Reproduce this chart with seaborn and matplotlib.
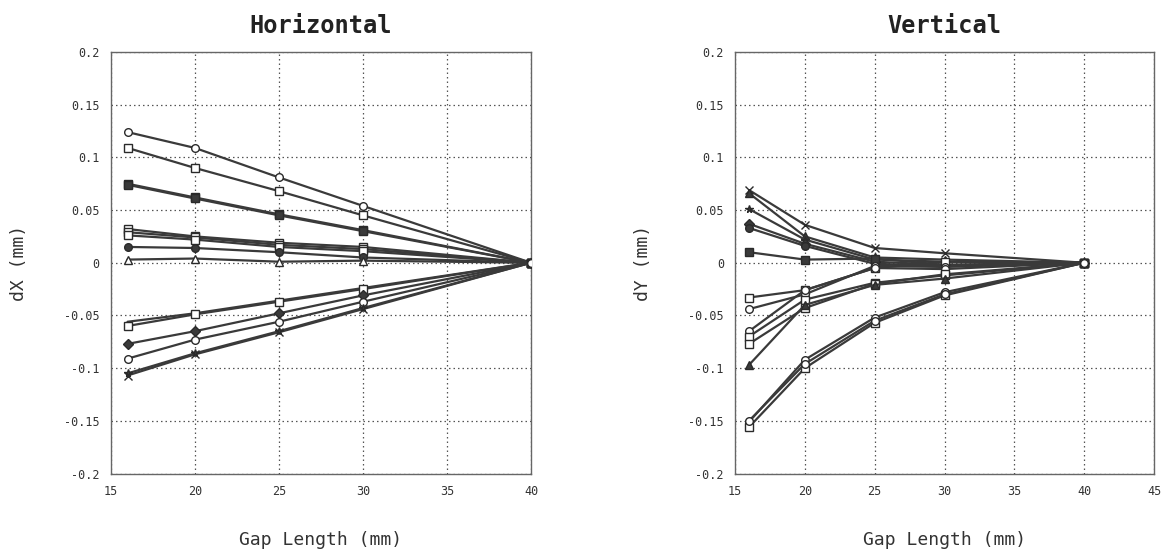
import matplotlib
matplotlib.use("Agg")
import matplotlib.pyplot as plt
import seaborn as sns
import pandas as pd
import numpy as np

gap = [16, 20, 25, 30, 40]

# Horizontal (dX, mm)
h_names = ["H1", "H2", "H3", "H4", "H5", "H6", "H7", "H8", "H9",
           "H10", "H11", "H12", "H13", "H14", "H15"]
h_values = [
    [0.124, 0.109, 0.081, 0.054, 0.0],
    [0.109, 0.090, 0.068, 0.045, 0.0],
    [0.075, 0.062, 0.046, 0.031, 0.0],
    [0.074, 0.061, 0.045, 0.030, 0.0],
    [0.032, 0.025, 0.019, 0.015, 0.0],
    [0.029, 0.024, 0.017, 0.013, 0.0],
    [0.026, 0.022, 0.015, 0.011, 0.0],
    [0.015, 0.014, 0.010, 0.005, 0.0],
    [0.003, 0.004, 0.001, 0.002, 0.0],
    [-0.056, -0.048, -0.036, -0.024, 0.0],
    [-0.060, -0.049, -0.037, -0.025, 0.0],
    [-0.077, -0.065, -0.048, -0.031, 0.0],
    [-0.091, -0.073, -0.056, -0.037, 0.0],
    [-0.107, -0.087, -0.066, -0.044, 0.0],
    [-0.105, -0.086, -0.065, -0.043, 0.0],
]
h_markers = ["o", "s", "s", "s", "s", "s", "s", "o", "^",
             "", "s", "D", "o", "x", "*"]
h_filled = [False, False, True, True, False, False, False, True, False,
            True, False, True, False, True, True]

# Vertical (dY, mm)
v_names = ["V1", "V2", "V3", "V4", "V5", "V6", "V7", "V8", "V9",
           "V10", "V11", "V12", "V13", "V14", "V15"]
v_values = [
    [0.069, 0.036, 0.014, 0.009, 0.0],
    [0.066, 0.025, 0.005, 0.003, 0.0],
    [0.051, 0.022, 0.003, 0.001, 0.0],
    [0.037, 0.018, 0.001, -0.002, 0.0],
    [0.033, 0.016, -0.001, -0.003, 0.0],
    [0.010, 0.003, 0.004, -0.002, 0.0],
    [-0.033, -0.026, -0.005, 0.001, 0.0],
    [-0.044, -0.030, -0.003, -0.004, 0.0],
    [-0.065, -0.026, -0.005, -0.006, 0.0],
    [-0.070, -0.035, -0.019, -0.012, 0.0],
    [-0.077, -0.043, -0.020, -0.011, 0.0],
    [-0.097, -0.040, -0.021, -0.015, 0.0],
    [-0.151, -0.092, -0.052, -0.028, 0.0],
    [-0.156, -0.100, -0.057, -0.031, 0.0],
    [-0.150, -0.096, -0.055, -0.030, 0.0],
]
v_markers = ["x", "^", "*", "D", "o", "s", "s", "o", "o",
             "s", "s", "^", "o", "s", "o"]
v_filled = [True, True, True, True, True, True, False, False, False,
            False, False, True, False, False, False]

xticks_h = [15, 20, 25, 30, 35, 40]
xticks_v = [15, 20, 25, 30, 35, 40, 45]
yticks = [-0.2, -0.15, -0.1, -0.05, 0, 0.05, 0.1, 0.15, 0.2]
ytick_labels = ["-0.2", "-0.15", "-0.1", "-0.05", "0", "0.05", "0.1", "0.15", "0.2"]

sns.set_style("white")
plt.rcParams["font.family"] = ["DejaVu Sans Mono", "DejaVu Sans"]

LINE = "#3a3a3a"
GRID = "#555555"

fig = plt.figure(figsize=(11.63, 5.52), dpi=100)
ax1 = fig.add_axes([0.0952, 0.1422, 0.3614, 0.7636])
ax2 = fig.add_axes([0.632, 0.1422, 0.3603, 0.7636])


def draw(ax, names, values, markers, filled, xmax, xticks, title, ylabel):
    rows = []
    for n, vals in zip(names, values):
        for g, v in zip(gap, vals):
            rows.append({"series": n, "gap": g, "val": v})
    df = pd.DataFrame(rows)
    for n, m, f in zip(names, markers, filled):
        sub = df[df["series"] == n]
        sns.lineplot(data=sub, x="gap", y="val", ax=ax, color=LINE, lw=1.6,
                     marker=m if m else None, markersize=5.5,
                     markerfacecolor=(LINE if f else "white"),
                     markeredgecolor="#2a2a2a", markeredgewidth=1.0,
                     estimator=None, sort=False, legend=False, zorder=3)
    # end point marker (open circle)
    ax.plot([40], [0], marker="o", ms=5.5, mfc="white", mec="#2a2a2a", mew=1.0,
            ls="none", zorder=4)
    ax.set_xlim(15, xmax)
    ax.set_ylim(-0.2, 0.2)
    ax.set_xticks(xticks)
    ax.set_xticklabels([str(t) for t in xticks])
    ax.set_yticks(yticks)
    ax.set_yticklabels(ytick_labels)
    ax.grid(True, ls=(0, (1.2, 2.4)), color=GRID, lw=0.9)
    ax.set_axisbelow(True)
    for s in ax.spines.values():
        s.set_color("#666666")
        s.set_linewidth(1.0)
    ax.tick_params(direction="in", length=4, width=1, colors="#666666",
                   labelcolor="#333333", labelsize=8.5, pad=8)
    ax.set_title(title, fontsize=17, fontweight="bold", pad=14, color="#222222")
    ax.set_xlabel("Gap Length (mm)", fontsize=13, labelpad=24, color="#333333")
    ax.set_ylabel(ylabel, fontsize=13, labelpad=26, color="#333333")


draw(ax1, h_names, h_values, h_markers, h_filled, 40, xticks_h, "Horizontal", "dX (mm)")
draw(ax2, v_names, v_values, v_markers, v_filled, 45, xticks_v, "Vertical", "dY (mm)")

fig.savefig("out.png", dpi=100)
